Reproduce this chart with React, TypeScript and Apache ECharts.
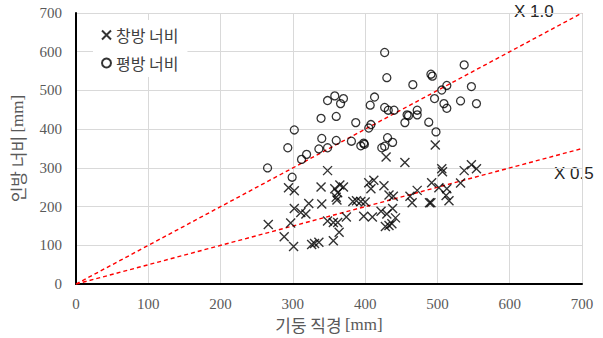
import { useEffect, useRef } from "react";
import * as echarts from "echarts";

// 창방 너비 (lintel width) vs. 기둥 직경 (column diameter), mm
const changbangDiameter = [
  348, 294, 302, 339, 358, 365, 370, 362, 360, 361, 405, 412, 408, 426, 433, 439,
  322, 340, 302, 311, 318, 297, 266, 383, 388, 394, 400, 374, 348, 356, 362, 398,
  410, 422, 430, 438, 442, 428, 433, 437, 288, 301, 330, 326, 336, 356, 364, 429,
  455, 506, 507, 537, 547, 554, 492, 532, 472, 462, 465, 489, 491, 502, 513, 512,
  516, 497,
];
const changbangWidth = [
  293, 249, 241, 251, 246, 256, 251, 236, 224, 217, 262, 268, 246, 254, 230, 227,
  208, 207, 195, 185, 181, 158, 154, 213, 215, 213, 212, 173, 163, 159, 159, 175,
  173, 188, 181, 195, 171, 149, 151, 156, 122, 97, 105, 102, 108, 112, 134, 328,
  314, 298, 290, 293, 308, 298, 262, 261, 242, 227, 210, 210, 210, 249, 246, 229,
  215, 359,
];

// 평방 너비 (plate width) vs. 기둥 직경, mm
const pyeongbangDiameter = [
  427, 430, 348, 358, 366, 370, 413, 407, 427, 432, 440, 458, 455, 339, 360, 387,
  408, 405, 302, 340, 360, 381, 293, 336, 348, 394, 398, 399, 431, 438, 423, 427,
  319, 312, 265, 299, 537, 491, 493, 466, 513, 506, 547, 496, 532, 509, 513, 554,
  472, 472, 460, 488, 498,
];
const pyeongbangWidth = [
  598, 533, 474, 486, 466, 479, 483, 462, 456, 449, 449, 437, 417, 428, 433, 417,
  412, 403, 398, 376, 371, 369, 352, 349, 352, 357, 364, 361, 378, 366, 352, 356,
  335, 322, 300, 276, 566, 542, 537, 515, 513, 501, 510, 479, 473, 466, 454, 466,
  449, 437, 435, 418, 393,
];

// Ratio guide lines (width = ratio × diameter)
const guideRatios = [1.0, 0.5];
const guideLabels = ["X 1.0", "X 0.5"];

const axisTicks = { min: 0, max: 700, interval: 100 };

const seriesNames = ["창방 너비", "평방 너비"];

const CROSS = "path://M0,0L10,10M10,0L0,10";

export default function App() {
  const ref = useRef<HTMLDivElement | null>(null);

  useEffect(() => {
    if (!ref.current) return;
    const chart = echarts.init(ref.current, null, { renderer: "svg" });

    const changbang = changbangDiameter.map((d, i) => [d, changbangWidth[i]]);
    const pyeongbang = pyeongbangDiameter.map((d, i) => [d, pyeongbangWidth[i]]);

    const tickFont = {
      color: "#595959",
      fontFamily: "Liberation Serif",
      fontSize: 15,
    };
    const titleRich = {
      a: { fontFamily: "Noto Sans CJK KR", fontSize: 17, color: "#595959" },
      b: { fontFamily: "Liberation Serif", fontSize: 17, color: "#595959" },
    };

    chart.setOption({
      animation: false,
      backgroundColor: "#ffffff",
      grid: { left: 76, right: 21, top: 13, bottom: 50, containLabel: false },
      legend: {
        data: seriesNames,
        orient: "vertical",
        left: 93,
        top: 20,
        padding: [7, 9, 6, 8],
        itemGap: 12,
        itemWidth: 9,
        itemHeight: 9,
        backgroundColor: "#ffffff",
        textStyle: {
          fontFamily: "Noto Sans CJK KR",
          fontSize: 16,
          color: "#404040",
        },
      },
      xAxis: {
        type: "value",
        ...axisTicks,
        name: "{a|기둥 직경} {b|[mm]}",
        nameLocation: "middle",
        nameGap: 22,
        nameTextStyle: { rich: titleRich },
        axisLine: { show: true, onZero: false, lineStyle: { color: "#000000", width: 2 } },
        axisTick: { show: false },
        axisLabel: { ...tickFont, margin: 12 },
        splitLine: { show: true, lineStyle: { color: "#d9d9d9", width: 1 } },
      },
      yAxis: {
        type: "value",
        ...axisTicks,
        name: "{a|인방 너비} {b|[mm]}",
        nameLocation: "middle",
        nameGap: 50,
        nameTextStyle: { rich: titleRich },
        axisLine: { show: true, onZero: false, lineStyle: { color: "#000000", width: 2 } },
        axisTick: { show: false },
        axisLabel: { ...tickFont, margin: 14 },
        splitLine: { show: true, lineStyle: { color: "#d9d9d9", width: 1 } },
      },
      series: [
        ...guideRatios.map((r) => ({
          type: "line",
          name: "guide " + r,
          data: [
            [axisTicks.min, axisTicks.min * r],
            [axisTicks.max, axisTicks.max * r],
          ],
          symbol: "none",
          silent: true,
          z: 1,
          lineStyle: { color: "#ff0000", width: 1.4, type: [4, 3] },
        })),
        {
          type: "scatter",
          name: seriesNames[0],
          data: changbang,
          symbol: CROSS,
          symbolSize: 9,
          z: 3,
          itemStyle: { color: "transparent", borderColor: "#000000", borderWidth: 1.4 },
        },
        {
          type: "scatter",
          name: seriesNames[1],
          data: pyeongbang,
          symbol: "circle",
          symbolSize: 8,
          z: 3,
          itemStyle: { color: "transparent", borderColor: "#000000", borderWidth: 1.3 },
        },
      ],
      graphic: [
        {
          type: "text",
          left: 514,
          top: 3,
          style: {
            text: guideLabels[0],
            fontFamily: "Liberation Sans",
            fontSize: 17,
            fill: "#262626",
          },
        },
        {
          type: "text",
          left: 554,
          top: 165,
          style: {
            text: guideLabels[1],
            fontFamily: "Liberation Sans",
            fontSize: 17,
            fill: "#262626",
          },
        },
      ],
    });

    return () => chart.dispose();
  }, []);

  return (
    <div
      ref={ref}
      style={{ position: "fixed", left: 0, top: 0, width: 603, height: 338, background: "#fff" }}
    />
  );
}
